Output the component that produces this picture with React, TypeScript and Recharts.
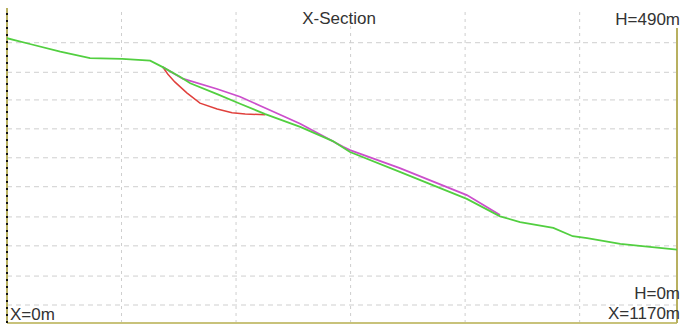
import { LineChart, Line, XAxis, YAxis, ReferenceLine } from "recharts";

// terrain profile (x in m, h in m)
const groundX = [0, 40, 93, 145, 201, 250, 272, 302, 320, 367, 407, 451, 512, 569, 599, 686, 803, 861, 896, 954, 988, 1013, 1071, 1105, 1170];
const groundH = [443, 434, 422, 412, 411, 408, 398, 383, 373, 356, 341, 325, 305, 283, 266, 235, 193, 166, 157, 148, 135, 132, 123, 120, 114];

// slip circle
const slipX = [272, 281, 293, 314, 337, 367, 393, 416, 451];
const slipH = [398, 387, 375, 358, 342, 333, 327, 325, 324];

// second surface
const surfX = [272, 307, 367, 407, 442, 482, 512, 552, 587, 599, 686, 803, 861];
const surfH = [398, 380, 364, 352, 338, 322, 310, 291, 274, 269, 241, 199, 168];

const gridX = [200, 400, 600, 800, 1000];
const gridH = [28, 73, 120, 165, 212, 257, 302, 347, 390, 436];

const ground = groundX.map((x, i) => ({ x, h: groundH[i] }));
const slip = slipX.map((x, i) => ({ x, h: slipH[i] }));
const surf = surfX.map((x, i) => ({ x, h: surfH[i] }));

const font = "'Liberation Sans', Arial, sans-serif";

export default function App() {
  return (
    <div style={{ position: "absolute", left: 0, top: 0, width: 681, height: 327, background: "#fff" }}>
      <LineChart width={681} height={327} margin={{ top: 8, right: 4, bottom: 4, left: 7 }}>
        <XAxis dataKey="x" type="number" domain={[0, 1170]} hide allowDataOverflow />
        <YAxis dataKey="h" type="number" domain={[0, 490]} hide allowDataOverflow />
        {gridH.map((h) => (
          <ReferenceLine key={"h" + h} y={h} stroke="#cfcfcf" strokeDasharray="5 4" />
        ))}
        {gridX.map((x) => (
          <ReferenceLine key={"x" + x} x={x} stroke="#cfcfcf" strokeDasharray="3 4" />
        ))}
        <ReferenceLine y={0} stroke="#c8c27a" strokeWidth={2} />
        <ReferenceLine segment={[{ x: 1170, y: 0 }, { x: 1170, y: 459 }]} stroke="#b8b060" strokeWidth={2} />
        <ReferenceLine x={0} stroke="#b8b060" strokeWidth={2} />
        <ReferenceLine x={0} stroke="#111" strokeWidth={2} strokeDasharray="2 5" />
        <Line data={slip} dataKey="h" stroke="#e0403c" strokeWidth={1.5} dot={false} isAnimationActive={false} />
        <Line data={surf} dataKey="h" stroke="#cc4fcc" strokeWidth={1.8} dot={false} isAnimationActive={false} />
        <Line data={ground} dataKey="h" stroke="#52cf40" strokeWidth={1.8} dot={false} isAnimationActive={false} />
      </LineChart>
      <svg width={681} height={327} style={{ position: "absolute", left: 0, top: 0, pointerEvents: "none" }}>
        <g fontFamily={font} fontSize={17} fill="#333">
          <text x={339} y={24} textAnchor="middle">X-Section</text>
          <text x={680} y={25} textAnchor="end">H=490m</text>
          <text x={680} y={299} textAnchor="end">H=0m</text>
          <text x={680} y={319} textAnchor="end">X=1170m</text>
          <text x={10} y={320}>X=0m</text>
        </g>
      </svg>
    </div>
  );
}
